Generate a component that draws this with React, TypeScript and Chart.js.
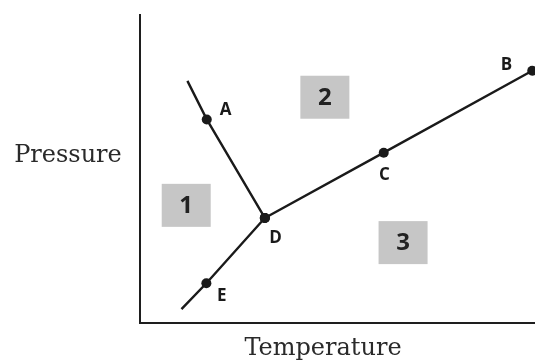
import React, { useEffect, useRef } from "react";
import { Chart, registerables } from "chart.js";

Chart.register(...registerables);

// Phase boundary lines (x = temperature, y = pressure, arbitrary units 0–100)
const fusionLineX = [12.0, 16.9, 31.6];
const fusionLineY = [78.6, 66.1, 34.1];
const fusionDots = [false, true, true];

const sublimationLineX = [10.5, 16.8, 31.6];
const sublimationLineY = [4.5, 12.9, 34.1];
const sublimationDots = [false, true, true];

const vaporLineX = [31.6, 61.7, 99.3];
const vaporLineY = [34.1, 55.3, 81.9];
const vaporDots = [true, true, true];

// Point labels
const pointNames = ["A", "B", "C", "D", "E"];
const pointLabelX = [21.7, 92.8, 61.9, 34.3, 20.7];
const pointLabelY = [69.1, 83.7, 47.9, 27.4, 8.8];

// Region labels
const regionNames = ["1", "2", "3"];
const regionX = [11.7, 46.8, 66.6];
const regionY = [38.2, 73.3, 26.1];

const xTitle = "Temperature";
const yTitle = "Pressure";

const LINE_COLOR = "#1a1a1a";

function toPts(xs: number[], ys: number[]) {
  return xs.map((x, i) => ({ x, y: ys[i] }));
}

const annotationPlugin = {
  id: "phaseAnnotations",
  beforeDatasetsDraw(chart: any) {
    const { ctx, scales } = chart;
    const xs = scales.x;
    const ys = scales.y;
    ctx.save();
    regionNames.forEach((name, i) => {
      const cx = xs.getPixelForValue(regionX[i]);
      const cy = ys.getPixelForValue(regionY[i]);
      const w = 49;
      const h = 43;
      ctx.fillStyle = "#c6c6c6";
      ctx.fillRect(cx - w / 2, cy - h / 2, w, h);
      ctx.fillStyle = "#222";
      ctx.font = "bold 24px 'Open Sans', 'DejaVu Sans', sans-serif";
      ctx.textAlign = "center";
      ctx.textBaseline = "middle";
      ctx.fillText(name, cx, cy + 1);
    });
    ctx.restore();
  },
  afterDatasetsDraw(chart: any) {
    const { ctx, scales, chartArea } = chart;
    const xs = scales.x;
    const ys = scales.y;
    ctx.save();
    ctx.fillStyle = "#1a1a1a";
    ctx.font = "bold 17px 'Open Sans', 'DejaVu Sans', sans-serif";
    ctx.textAlign = "center";
    ctx.textBaseline = "middle";
    pointNames.forEach((name, i) => {
      ctx.fillText(name, xs.getPixelForValue(pointLabelX[i]), ys.getPixelForValue(pointLabelY[i]));
    });
    // axis titles
    ctx.fillStyle = "#2a2a2a";
    ctx.font = "24px 'DejaVu Serif', 'Liberation Serif', serif";
    ctx.textBaseline = "alphabetic";
    ctx.textAlign = "center";
    ctx.fillText(xTitle, chartArea.left + 183, chartArea.bottom + 32);
    ctx.fillText(yTitle, chartArea.left - 72, 162);
    ctx.restore();
  },
};

export default function App() {
  const canvasRef = useRef<HTMLCanvasElement | null>(null);

  useEffect(() => {
    if (!canvasRef.current) return;
    const lineDataset = (xs: number[], ys: number[], dots: boolean[]) => ({
      data: toPts(xs, ys),
      showLine: true,
      borderColor: LINE_COLOR,
      backgroundColor: LINE_COLOR,
      borderWidth: 2.4,
      pointRadius: dots.map((d) => (d ? 5 : 0)),
      pointBackgroundColor: LINE_COLOR,
      pointBorderWidth: 0,
      tension: 0,
      clip: false as any,
    });
    const chart = new Chart(canvasRef.current, {
      type: "scatter",
      data: {
        datasets: [
          lineDataset(fusionLineX, fusionLineY, fusionDots),
          lineDataset(sublimationLineX, sublimationLineY, sublimationDots),
          lineDataset(vaporLineX, vaporLineY, vaporDots),
        ],
      },
      options: {
        animation: false,
        responsive: true,
        maintainAspectRatio: false,
        layout: { autoPadding: false, padding: { left: 140, top: 15, right: 0, bottom: 39 } },
        plugins: {
          legend: { display: false },
          tooltip: { enabled: false },
        },
        scales: {
          x: {
            type: "linear",
            min: 0,
            max: 100,
            ticks: { display: false },
            grid: { display: false, drawTicks: false },
            border: { display: true, color: "#1e1e1e", width: 2 },
          },
          y: {
            type: "linear",
            min: 0,
            max: 100,
            ticks: { display: false },
            grid: { display: false, drawTicks: false },
            border: { display: true, color: "#1e1e1e", width: 2 },
          },
        },
      },
      plugins: [annotationPlugin],
    });
    return () => chart.destroy();
  }, []);

  return (
    <div style={{ position: "absolute", left: 0, top: 0, width: 535, height: 362, background: "#fff" }}>
      <canvas ref={canvasRef} />
    </div>
  );
}
